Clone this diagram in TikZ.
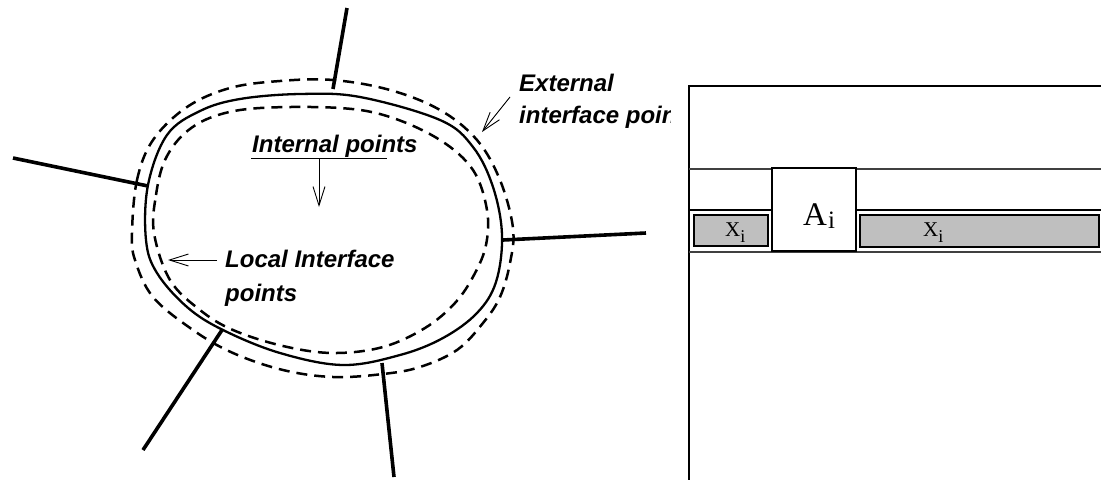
\documentclass[tikz,border=0pt]{standalone}
\usepackage{fontspec}
\setmainfont{Liberation Serif}
\newfontfamily\labelfont{Liberation Sans}
\usetikzlibrary{arrows.meta}

\tikzset{
  labeltext/.style={font=\labelfont\bfseries\itshape\fontsize{24}{28}\selectfont, inner sep=0pt, anchor=base west},
  domainline/.style={line width=2.3pt},
  halo/.style={line width=2.5pt, dash pattern=on 11pt off 7pt},
  link/.style={line width=3.6pt},
  pointer/.style={line width=0.9pt, -{Straight Barb[length=19pt,width=12pt,line width=0.9pt]}},
  rowline/.style={line width=1.3pt, black!75},
  blockline/.style={line width=1.3pt},
  vecbox/.style={draw, line width=1.1pt, fill=black!25},
  matfont/.style={font=\fontsize{33}{36}\selectfont, inner sep=0pt, anchor=base west},
  vecfont/.style={font=\fontsize{21}{24}\selectfont, inner sep=0pt, anchor=base west},
}

\newcommand{\subidx}[2]{\raisebox{-#2}{\fontsize{#1}{#1}\selectfont i}}

\begin{document}
\begin{tikzpicture}[x=1pt,y=-1pt]
\useasboundingbox (0,0) rectangle (1101,480);

% ---- subdomain: boundary and its two interface layers ----
\draw[domainline] plot[smooth cycle, tension=0.6] coordinates {
  (146,240) (148,185) (167,135) (200,111) (240,99) (300,94) (360,97)
  (440,120) (473,147) (493,187) (502,235) (496,282) (477,313)
  (443,338) (400,355) (343,365) (280,353) (223,330) (187,307)
  (157,273)};

\draw[halo] plot[smooth cycle, tension=0.6] coordinates {
  (132,233) (137,180) (153,140) (187,107) (230,88) (280,81) (333,80)
  (390,90) (440,110) (477,140) (500,180) (513,228) (510,263) (500,297)
  (483,323) (457,350) (420,367) (383,374) (333,377) (283,370) (233,353)
  (193,330) (153,297) (135,260)};

\draw[halo] plot[smooth cycle, tension=0.6] coordinates {
  (154,233) (156,195) (165,160) (185,133) (215,116) (260,108)
  (340,108) (390,117) (440,140) (473,170) (487,210) (486,245) (474,275)
  (455,303) (425,328) (383,347) (333,353) (283,346) (233,330)
  (200,310) (170,280)};

% ---- links to neighbouring subdomains ----
\coordinate (t1) at (333,89);  \coordinate (t2) at (347,8);
\coordinate (l1) at (148,186); \coordinate (l2) at (13,158);
\coordinate (r1) at (503,240); \coordinate (r2) at (646,233);
\coordinate (b1) at (222,330); \coordinate (b2) at (143,450);
\coordinate (c1) at (382,363); \coordinate (c2) at (394,477);
\draw[link] (t1) -- (t2);
\draw[link] (l1) -- (l2);
\draw[link] (r1) -- (r2);
\draw[link] (b1) -- (b2);
\draw[link] (c1) -- (c2);

% ---- labels ----
\node[labeltext] (ext) at (519,91) {External};
\begin{scope}
  \clip (0,0) rectangle (670,480);
  \node[labeltext] (extb) at (519,123) {interface points};
\end{scope}
\node[labeltext] (int) at (252,152) {Internal points};
\node[labeltext] (loc) at (225,267) {Local Interface};
\node[labeltext] (locb) at (225,301) {points};

\coordinate (e1) at (510,97);  \coordinate (e2) at (482,132);
\draw[pointer] (e1) -- (e2);

\coordinate (u1) at (251,158); \coordinate (u2) at (387,158);
\coordinate (i1) at (319,158); \coordinate (i2) at (319,207);
\draw[line width=0.9pt] (u1) -- (u2);
\draw[pointer] (i1) -- (i2);

\coordinate (p1) at (217,260); \coordinate (p2) at (168,260);
\draw[pointer] (p1) -- (p2);

% ---- matrix block row ----
\draw[blockline] (689,85) -- (689,480);
\draw[blockline] (689,86) -- (1101,86);
\draw[rowline] (689,169) -- (1101,169);
\draw[blockline] (689,210) -- (772,210);
\draw[blockline] (856,210) -- (1101,210);
\draw[rowline] (689,252) -- (1101,252);

\draw[blockline, fill=white] (772,168) rectangle (856,251);
\node[matfont] (A) at (803,225) {A\kern1pt\subidx{25}{3pt}};

\draw[vecbox] (694,215) rectangle (768,246);
\node[vecfont] (xl) at (725,236) {X\subidx{18}{6pt}};
\draw[vecbox] (860,215) rectangle (1099,247);
\node[vecfont] (xr) at (923,236) {X\subidx{18}{6pt}};
\end{tikzpicture}
\end{document}
